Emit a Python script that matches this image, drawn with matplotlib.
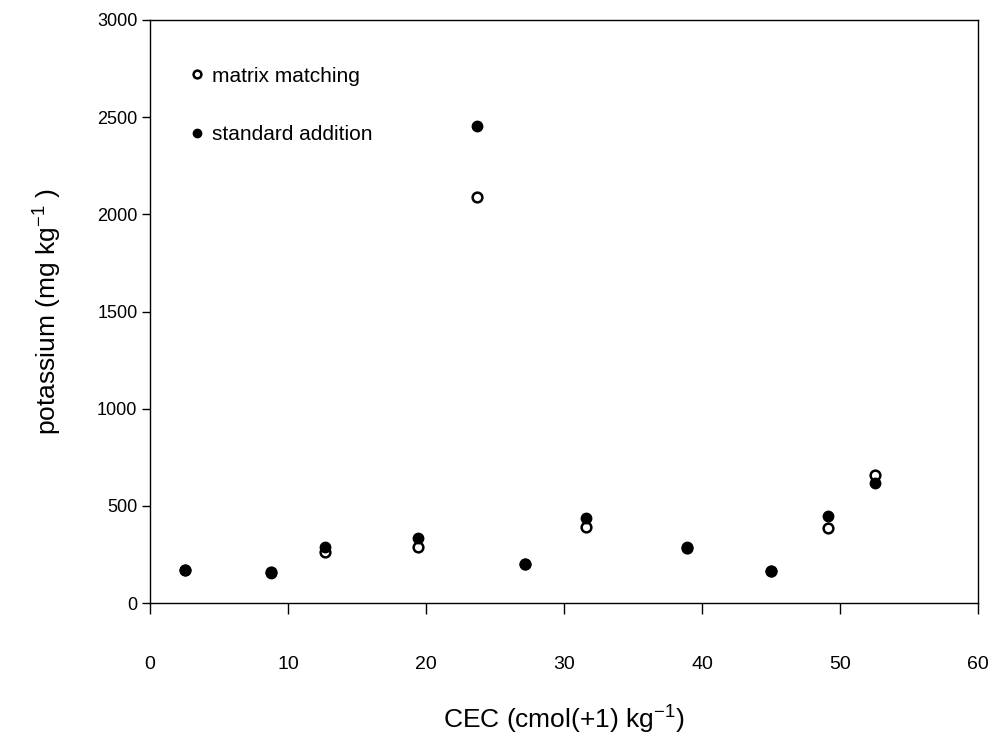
import matplotlib
matplotlib.use("Agg")
import matplotlib.pyplot as plt

plt.rcParams['font.family'] = ['Liberation Sans', 'DejaVu Sans']
plt.rcParams['mathtext.fontset'] = 'custom'
plt.rcParams['mathtext.rm'] = 'Liberation Sans'
plt.rcParams['mathtext.it'] = 'Liberation Sans'
plt.rcParams['mathtext.bf'] = 'Liberation Sans'

# Data
cec = [2.5, 8.8, 12.7, 19.4, 23.7, 27.2, 31.6, 38.9, 45.0, 49.1, 52.5]
matrix_matching = [170, 158, 264, 288, 2088, 200, 393, 285, 165, 388, 659]
standard_addition = [172, 156, 288, 334, 2455, 202, 436, 288, 165, 446, 619]

x_ticks = [0, 10, 20, 30, 40, 50, 60]
y_ticks = [0, 500, 1000, 1500, 2000, 2500, 3000]

fig = plt.figure(figsize=(9.98, 7.42), dpi=100)
ax = fig.add_axes([150/998, 1 - 603/742, (978 - 150)/998, (603 - 20)/742])

ax.plot(cec, matrix_matching, linestyle='none', marker='o', markersize=7,
        markerfacecolor='white', markeredgecolor='black', markeredgewidth=1.8,
        label='matrix matching', zorder=2)
ax.plot(cec, standard_addition, linestyle='none', marker='o', markersize=7.5,
        markerfacecolor='black', markeredgecolor='black',
        label='standard addition', zorder=3)

ax.set_xlim(0, 60)
ax.set_ylim(0, 3000)
ax.set_xticks(x_ticks)
ax.set_yticks(y_ticks)

ax.tick_params(axis='x', direction='out', length=8, width=1, pad=30, labelsize=14)
ax.tick_params(axis='y', direction='out', length=6, width=1, pad=3, labelsize=13)
for s in ax.spines.values():
    s.set_linewidth(1.0)

ax.set_xlabel(r'CEC (cmol(+1) kg$^{-1}$)', fontsize=19, labelpad=22)
ax.set_ylabel(r'potassium (mg kg$^{-1}$ )', fontsize=19, labelpad=24)

leg = ax.legend(loc='upper left', bbox_to_anchor=(0.021, 0.952), frameon=False,
                fontsize=15, labelspacing=1.9, handletextpad=0.25, handlelength=1.0,
                markerscale=0.8)

fig.savefig('out.png', dpi=100)
